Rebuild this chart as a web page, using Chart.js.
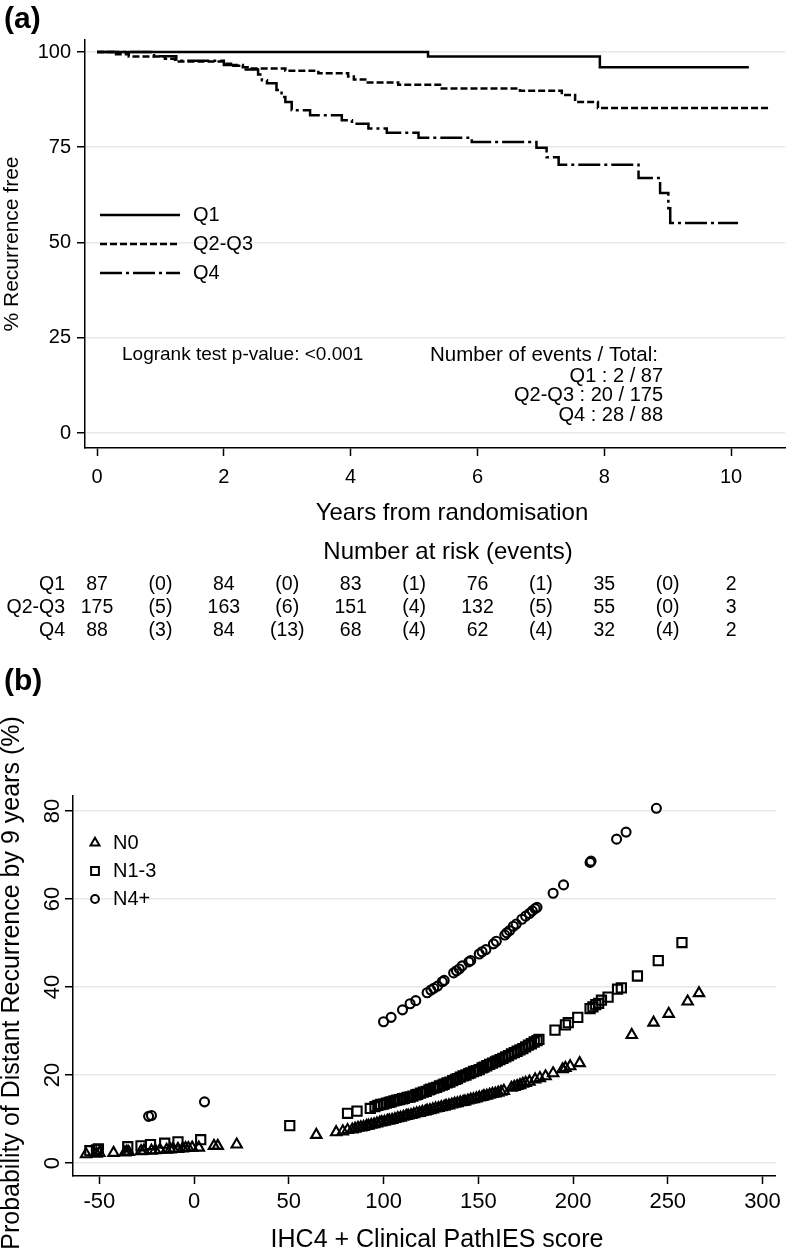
<!DOCTYPE html>
<html>
<head>
<meta charset="utf-8">
<script src="https://cdn.jsdelivr.net/npm/chart.js@4.4.1/dist/chart.umd.min.js"></script>
<style>
body { margin: 0; background: #fff; }
#boxA { position: absolute; left: 0; top: 0; width: 786px; height: 645px; }
#boxB { position: absolute; left: 0; top: 645px; width: 786px; height: 610px; }
</style>
</head>
<body>
<div id="boxA"><canvas id="kmChart"></canvas></div>
<div id="boxB"><canvas id="scoreChart"></canvas></div>
<script>
// ---- panel (a): Kaplan-Meier, recurrence free ----
const kmTicksX = [0, 2, 4, 6, 8, 10];
const kmTicksY = [0, 25, 50, 75, 100];

const q1Years = [0, 5.22, 7.93, 10.28];
const q1Surv  = [100, 98.8, 96.0, 96.0];

const q23Years = [0, 0.25, 0.5, 1.07, 1.23, 2.02, 2.15, 2.3, 2.44, 2.97, 3.49, 3.96, 4.05, 4.23, 4.75, 5.41, 6.67, 7.33, 7.54, 7.9, 10.6];
const q23Surv  = [100, 99.4, 98.8, 98.2, 97.5, 96.9, 96.4, 96.0, 95.7, 95.1, 94.4, 93.6, 92.8, 92.0, 91.4, 90.4, 89.8, 88.7, 86.9, 85.3, 85.3];

const q4Years = [0, 0.9, 1.25, 2.0, 2.3, 2.54, 2.6, 2.68, 2.83, 2.91, 2.97, 3.07, 3.36, 3.86, 4.02, 4.28, 4.57, 5.07, 5.91, 6.93, 7.09, 7.28, 8.54, 8.88, 9.01, 9.04, 10.11];
const q4Surv  = [100, 98.9, 97.7, 96.6, 95.4, 94.1, 92.6, 91.8, 90.0, 88.2, 86.9, 84.7, 83.4, 82.1, 81.2, 79.9, 78.8, 77.5, 76.4, 74.9, 72.4, 70.4, 66.9, 63.0, 59.0, 55.1, 55.1];

const groupNames = ['Q1', 'Q2-Q3', 'Q4'];
const logrankText = 'Logrank test p-value: <0.001';
const eventsTitle = 'Number of events / Total:';
const eventsLines = ['Q1 : 2 / 87', 'Q2-Q3 : 20 / 175', 'Q4 : 28 / 88'];

// number at risk table
const riskYears = [0, 2, 4, 6, 8, 10];
const eventYears = [1, 3, 5, 7, 9];
const q1Risk = [87, 84, 83, 76, 35, 2];
const q1Events = [0, 0, 1, 1, 0];
const q23Risk = [175, 163, 151, 132, 55, 3];
const q23Events = [5, 6, 4, 5, 0];
const q4Risk = [88, 84, 68, 62, 32, 2];
const q4Events = [3, 13, 4, 4, 4];

// ---- panel (b): predicted probability vs score ----
const scoreTicksX = [-50, 0, 50, 100, 150, 200, 250, 300];
const scoreTicksY = [0, 20, 40, 60, 80];

const n0Score = [-57, -51.5, -50, -42.5, -36.5, -35.5, -34.5, -28, -26.5, -22.5, -20.5, -18, -14.5, -12.5, -11, -8.5, -6, -4.5, -3, -1, 2.5, 10.5, 12.5, 22.5,
  64.5, 75, 78.5, 81, 83.5, 85, 86.5, 88, 89.5, 91, 92, 93.5, 95, 96.5, 98, 99, 100.5, 102, 103, 104.5, 106, 107.5, 109, 110.5, 112, 113, 114.5, 116, 117.5, 119,
  120.5, 122, 123, 124.5, 126, 127.5, 129, 130.5, 132, 133, 134.5, 136, 137.5, 139, 140.5, 142, 143, 144.5, 146, 147.5, 149, 150.5, 152, 153, 154.5, 156,
  157.5, 159, 160.5, 162, 163.5,
  167.5, 169, 170.5, 172, 173.5, 175, 177, 180, 182.5, 185.5, 189.5, 194.5, 196, 198.5, 203.5,
  231, 242.5, 250.5, 260.5, 266.5];
const n0Prob = [2.0, 2.1, 2.3, 2.3, 2.4, 2.6, 2.5, 2.7, 2.8, 2.8, 2.9, 3.0, 3.0, 3.1, 3.2, 3.2, 3.3, 3.4, 3.4, 3.5, 3.5, 3.9, 3.9, 4.2,
  6.4, 7.0, 7.2, 7.5, 7.6, 7.8, 8.0, 8.1, 8.2, 8.4, 8.5, 8.7, 8.8, 9.0, 9.2, 9.3, 9.4, 9.6, 9.7, 9.8, 10.0, 10.2, 10.3, 10.5, 10.7, 10.8, 10.9, 11.1, 11.3, 11.4,
  11.6, 11.7, 11.9, 12.0, 12.2, 12.4, 12.5, 12.7, 12.8, 13.0, 13.1, 13.3, 13.5, 13.6, 13.8, 13.9, 14.0, 14.2, 14.4, 14.5, 14.7, 14.9, 15.0, 15.2, 15.3, 15.5,
  15.7, 15.8, 16.0, 16.2, 16.4,
  17.1, 17.3, 17.5, 17.7, 18.0, 18.2, 18.5, 19.0, 19.3, 19.7, 20.4, 21.3, 21.6, 22.0, 22.7,
  29.1, 31.9, 33.9, 36.7, 38.6];

const n13Score = [-55, -51.5, -50.5, -35, -28, -23, -15.5, -8.5, 3.5, 50.5, 81, 86, 93, 95.5,
  97, 98.5, 100, 101.5, 103, 104, 105.5, 107, 108.5, 110, 111, 112.5, 114, 115.5, 117, 118, 119.5, 121, 122.5, 124, 125, 126.5, 128, 129.5, 131, 132,
  133.5, 135, 136.5, 138, 139, 140.5, 142, 143.5, 145, 146, 147.5, 149, 150.5, 152, 153, 154.5, 156, 157.5, 159, 160, 161.5, 163, 164.5, 166, 167.5, 169,
  170.5, 172, 173.5, 175, 176.5, 178, 179.5, 181, 182,
  190.5, 196, 197.5, 202.5, 209, 210.5, 212, 213.5, 215, 218.5, 223.5, 225.5, 234, 245, 257.5];
const n13Prob = [2.8, 3.0, 3.2, 3.7, 3.9, 4.2, 4.5, 4.8, 5.3, 8.5, 11.3, 11.8, 12.4, 12.8,
  13.1, 13.3, 13.4, 13.6, 13.8, 13.9, 14.1, 14.3, 14.4, 14.6, 14.7, 14.9, 15.0, 15.2, 15.5, 15.6, 15.9, 16.1, 16.3, 16.6, 16.8, 17.0, 17.2, 17.5, 17.7, 17.9,
  18.2, 18.4, 18.7, 19.0, 19.2, 19.5, 19.8, 20.0, 20.3, 20.5, 20.8, 21.0, 21.2, 21.6, 21.8, 22.1, 22.4, 22.7, 23.0, 23.2, 23.5, 23.8, 24.1, 24.4, 24.8, 25.1,
  25.4, 25.7, 26.0, 26.4, 26.8, 27.1, 27.5, 27.8, 28.1,
  30.2, 31.4, 31.9, 33.1, 35.1, 35.5, 36.0, 36.3, 37.0, 37.7, 39.5, 39.8, 42.5, 46.0, 50.1];

const n4Score = [-24, -22.5, 5.5, 100, 104, 110, 114, 117, 123, 125, 126.5, 128.5, 131, 132, 137, 138.5, 140, 141.5, 145, 146, 150.5, 152, 154,
  158, 159.5, 164, 165, 166.5, 168.5, 170, 173, 175, 177, 178.5, 180, 181, 189.5, 195, 209, 209.5, 223, 228, 244];
const n4Prob = [10.6, 10.8, 13.9, 32.1, 33.1, 34.8, 36.2, 36.9, 38.7, 39.3, 39.7, 40.2, 41.2, 41.5, 43.2, 43.7, 44.1, 44.8, 45.7, 46.0, 47.5, 48.0, 48.5,
  49.8, 50.4, 51.8, 52.3, 52.8, 53.8, 54.3, 55.4, 56.1, 56.7, 57.3, 57.8, 58.1, 61.3, 63.2, 68.3, 68.6, 73.6, 75.2, 80.6];

const nodeNames = ['N0', 'N1-3', 'N4+'];

// ---- drawing ----
const FONT = "'Liberation Sans', Arial, sans-serif";
Chart.defaults.font.family = FONT;
Chart.defaults.color = '#000';

function pairs(xs, ys) {
  return xs.map((v, i) => ({ x: v, y: ys[i] }));
}

function label(ctx, str, x, y, size, align, bold) {
  ctx.save();
  ctx.font = (bold ? 'bold ' : '') + size + 'px ' + FONT;
  ctx.fillStyle = '#000';
  ctx.textAlign = align || 'left';
  ctx.textBaseline = 'middle';
  ctx.fillText(str, x, y);
  ctx.restore();
}

function vlabel(ctx, str, x, y, size) {
  ctx.save();
  ctx.translate(x, y);
  ctx.rotate(-Math.PI / 2);
  label(ctx, str, 0, 0, size, 'center');
  ctx.restore();
}

const kmText = {
  id: 'kmText',
  afterDraw(chart) {
    const ctx = chart.ctx;
    const xs = chart.scales.x;
    label(ctx, '(a)', 4, 20, 30, 'left', true);
    vlabel(ctx, '% Recurrence free', 12, 244, 21);

    // legend
    chart.data.datasets.forEach((ds, i) => {
      const y = 215 + i * 29;
      ctx.save();
      ctx.strokeStyle = '#000';
      ctx.lineWidth = ds.borderWidth;
      ctx.setLineDash(ds.borderDash || []);
      ctx.beginPath();
      ctx.moveTo(100, y);
      ctx.lineTo(180, y);
      ctx.stroke();
      ctx.restore();
      label(ctx, groupNames[i], 193, y, 20);
    });

    label(ctx, logrankText, 122, 355, 19);
    label(ctx, eventsTitle, 430, 355, 20.5);
    eventsLines.forEach((s, i) => label(ctx, s, 663, 376 + i * 19.5, 20, 'right'));

    label(ctx, 'Years from randomisation', 452, 513, 24, 'center');
    label(ctx, 'Number at risk (events)', 448, 552, 24, 'center');

    const rows = [[q1Risk, q1Events], [q23Risk, q23Events], [q4Risk, q4Events]];
    rows.forEach((r, i) => {
      const y = 585 + i * 23;
      label(ctx, groupNames[i], 65, y, 19.5, 'right');
      riskYears.forEach((t, j) => label(ctx, String(r[0][j]), xs.getPixelForValue(t), y, 19.5, 'center'));
      eventYears.forEach((t, j) => label(ctx, '(' + r[1][j] + ')', xs.getPixelForValue(t), y, 19.5, 'center'));
    });
  }
};

new Chart(document.getElementById('kmChart'), {
  type: 'line',
  data: {
    datasets: [
      { label: 'Q1', data: pairs(q1Years, q1Surv), borderColor: '#000', borderWidth: 2.5, stepped: true, pointRadius: 0, fill: false },
      { label: 'Q2-Q3', data: pairs(q23Years, q23Surv), borderColor: '#000', borderWidth: 2.5, borderDash: [7, 3], stepped: true, pointRadius: 0, fill: false },
      { label: 'Q4', data: pairs(q4Years, q4Surv), borderColor: '#000', borderWidth: 2.5, borderDash: [22, 4, 3, 4], stepped: true, pointRadius: 0, fill: false }
    ]
  },
  options: {
    responsive: true,
    maintainAspectRatio: false,
    animation: false,
    devicePixelRatio: 1,
    layout: { padding: { top: 40, right: 1, left: 0, bottom: 0 } },
    plugins: { legend: { display: false }, tooltip: { enabled: false } },
    scales: {
      x: {
        type: 'linear', min: -0.19, max: 10.85,
        afterBuildTicks: s => { s.ticks = kmTicksX.map(v => ({ value: v })); },
        afterFit: s => { s.height = 197; },
        grid: { drawOnChartArea: false, tickLength: 8, tickColor: '#000', tickWidth: 1.5 },
        border: { color: '#000', width: 1.5 },
        ticks: { font: { size: 20 }, padding: 9, color: '#000', maxRotation: 0 }
      },
      y: {
        type: 'linear', min: -3.94, max: 103.15,
        afterBuildTicks: s => { s.ticks = kmTicksY.map(v => ({ value: v })); },
        afterFit: s => { s.width = 85; },
        grid: { color: '#e8e8e8', lineWidth: 1.5, tickLength: 8, tickColor: '#000', tickWidth: 1.5 },
        border: { color: '#000', width: 1.5 },
        ticks: { font: { size: 20 }, padding: 6, color: '#000' }
      }
    }
  },
  plugins: [kmText]
});

const scoreText = {
  id: 'scoreText',
  afterDraw(chart) {
    const ctx = chart.ctx;
    const ys = chart.scales.y;
    label(ctx, '(b)', 4, 37, 30, 'left', true);
    vlabel(ctx, 'Probability of Distant Recurrence by 9 years (%)', 12, 338, 25);
    scoreTicksY.forEach(v => vlabel(ctx, String(v), 53, ys.getPixelForValue(v), 22));
    label(ctx, 'IHC4 + Clinical PathIES score', 437, 595, 25, 'center');

    // legend
    chart.data.datasets.forEach((ds, i) => {
      const y = 198 + i * 28;
      ctx.save();
      ctx.strokeStyle = '#000';
      ctx.fillStyle = 'rgba(0,0,0,0)';
      ctx.lineWidth = 2;
      Chart.helpers.drawPoint(ctx, { pointStyle: ds.pointStyle, radius: ds.legendRadius, borderWidth: 2, rotation: 0 }, 95, y);
      ctx.restore();
      label(ctx, nodeNames[i], 113, y, 20);
    });
  }
};

new Chart(document.getElementById('scoreChart'), {
  type: 'scatter',
  data: {
    datasets: [
      { label: 'N0', data: pairs(n0Score, n0Prob), pointStyle: 'triangle', pointRadius: 6, legendRadius: 5.2,
        pointBorderWidth: 2.1, pointBorderColor: '#000', pointBackgroundColor: 'rgba(0,0,0,0)' },
      { label: 'N1-3', data: pairs(n13Score, n13Prob), pointStyle: 'rect', pointRadius: 6.5, legendRadius: 5.5,
        pointBorderWidth: 2.1, pointBorderColor: '#000', pointBackgroundColor: 'rgba(0,0,0,0)' },
      { label: 'N4+', data: pairs(n4Score, n4Prob), pointStyle: 'circle', pointRadius: 4.5, legendRadius: 3.9,
        pointBorderWidth: 2.1, pointBorderColor: '#000', pointBackgroundColor: 'rgba(0,0,0,0)' }
    ]
  },
  options: {
    responsive: true,
    maintainAspectRatio: false,
    animation: false,
    devicePixelRatio: 1,
    layout: { padding: { top: 151, right: 8, left: 0, bottom: 0 } },
    plugins: { legend: { display: false }, tooltip: { enabled: false } },
    scales: {
      x: {
        type: 'linear', min: -63.9, max: 307,
        afterBuildTicks: s => { s.ticks = scoreTicksX.map(v => ({ value: v })); },
        afterFit: s => { s.height = 79; },
        grid: { drawOnChartArea: false, tickLength: 8, tickColor: '#000', tickWidth: 1.5 },
        border: { color: '#000', width: 1.5 },
        ticks: { font: { size: 22 }, padding: 5, color: '#000', maxRotation: 0 }
      },
      y: {
        type: 'linear', min: -2.95, max: 83.4,
        afterBuildTicks: s => { s.ticks = scoreTicksY.map(v => ({ value: v })); },
        afterFit: s => { s.width = 73; },
        grid: { color: '#e8e8e8', lineWidth: 1.5, tickLength: 8, tickColor: '#000', tickWidth: 1.5 },
        border: { color: '#000', width: 1.5 },
        ticks: { display: false }
      }
    }
  },
  plugins: [scoreText]
});
</script>
</body>
</html>
